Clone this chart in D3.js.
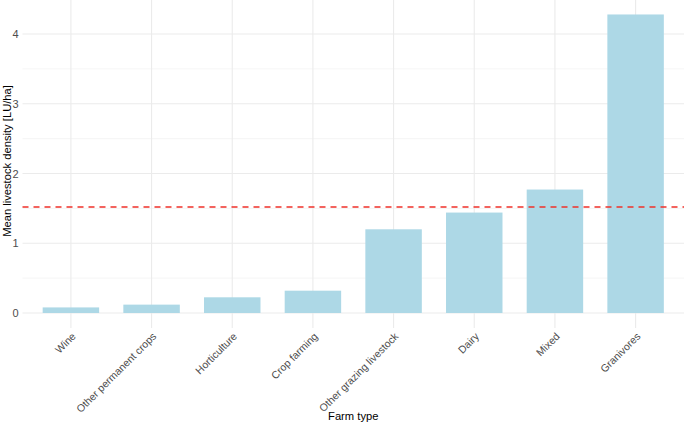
<!DOCTYPE html>
<html><head><meta charset="utf-8">
<script src="https://cdn.jsdelivr.net/npm/d3@7"></script>
<style>body{margin:0;background:#fff;font-family:"Liberation Sans",Arial,sans-serif;}</style>
</head><body><svg id="c" width="685" height="425"></svg>
<script>
const categories = ["Wine","Other permanent crops","Horticulture","Crop farming","Other grazing livestock","Dairy","Mixed","Granivores"];
const values = [0.08, 0.12, 0.225, 0.32, 1.2, 1.44, 1.77, 4.28];
const yTicks = [0, 1, 2, 3, 4];
const yMinor = [0.5, 1.5, 2.5, 3.5];
const threshold = [1.52];

const svg = d3.select("#c");
const pLeft = 22.5, pRight = 684, pTop = 0, pBottom = 328;
const x = d3.scaleBand().domain(categories).range([pLeft, pRight]).paddingInner(0.3).paddingOuter(0.25);
const y = d3.scaleLinear().domain([0, 4]).range([313, 34]);
const FONT = "Liberation Sans, Arial, sans-serif";

// grid
const g = svg.append("g");
g.selectAll(".minor").data(yMinor).join("line")
  .attr("x1", pLeft).attr("x2", pRight).attr("y1", d => y(d)).attr("y2", d => y(d))
  .attr("stroke", "#f2f2f2").attr("stroke-width", 0.8);
g.selectAll(".major").data(yTicks).join("line")
  .attr("x1", pLeft).attr("x2", pRight).attr("y1", d => y(d)).attr("y2", d => y(d))
  .attr("stroke", "#ebebeb").attr("stroke-width", 1.1);
g.selectAll(".vmajor").data(categories).join("line")
  .attr("x1", d => x(d) + x.bandwidth()/2).attr("x2", d => x(d) + x.bandwidth()/2)
  .attr("y1", pTop).attr("y2", pBottom)
  .attr("stroke", "#ebebeb").attr("stroke-width", 1.1);

// bars
svg.append("g").selectAll("rect").data(values).join("rect")
  .attr("x", (d, i) => x(categories[i]))
  .attr("width", x.bandwidth())
  .attr("y", d => y(d))
  .attr("height", d => y(0) - y(d))
  .attr("fill", "#add8e6");

// threshold line
svg.append("g").selectAll("line").data(threshold).join("line")
  .attr("x1", pLeft).attr("x2", pRight).attr("y1", d => y(d)).attr("y2", d => y(d))
  .attr("stroke", "#f0302a").attr("stroke-width", 1.4).attr("stroke-dasharray", "6,5");

// y axis labels
const yAxis = d3.axisLeft(y).tickValues(yTicks).tickSize(0).tickPadding(4).tickFormat(d3.format("d"));
const ya = svg.append("g").attr("transform", `translate(${pLeft},0)`).call(yAxis);
ya.select(".domain").remove();
ya.selectAll("text").attr("fill", "#4d4d4d").attr("font-size", 11).attr("font-family", FONT);

// x axis labels
const xAxis = d3.axisBottom(x).tickSize(0).tickPadding(0);
const xa = svg.append("g").attr("transform", `translate(0,${pBottom})`).call(xAxis);
xa.select(".domain").remove();
xa.selectAll("text")
  .attr("fill", "#4d4d4d").attr("font-size", 10.5).attr("font-family", FONT)
  .attr("text-anchor", "end").attr("dy", 0).attr("y", 0)
  .attr("transform", "translate(5.5,9) rotate(-45)");

// titles
svg.append("text").attr("x", (pLeft + pRight)/2).attr("y", 420).attr("text-anchor", "middle")
  .attr("font-size", 11.2).attr("font-family", FONT).attr("fill", "#000").text("Farm type");
svg.append("text").attr("transform", `translate(11,${(pTop + pBottom)/2 - 3}) rotate(-90)`).attr("text-anchor", "middle")
  .attr("font-size", 11.2).attr("font-family", FONT).attr("fill", "#000").text("Mean livestock density [LU/ha]");
</script></body></html>
